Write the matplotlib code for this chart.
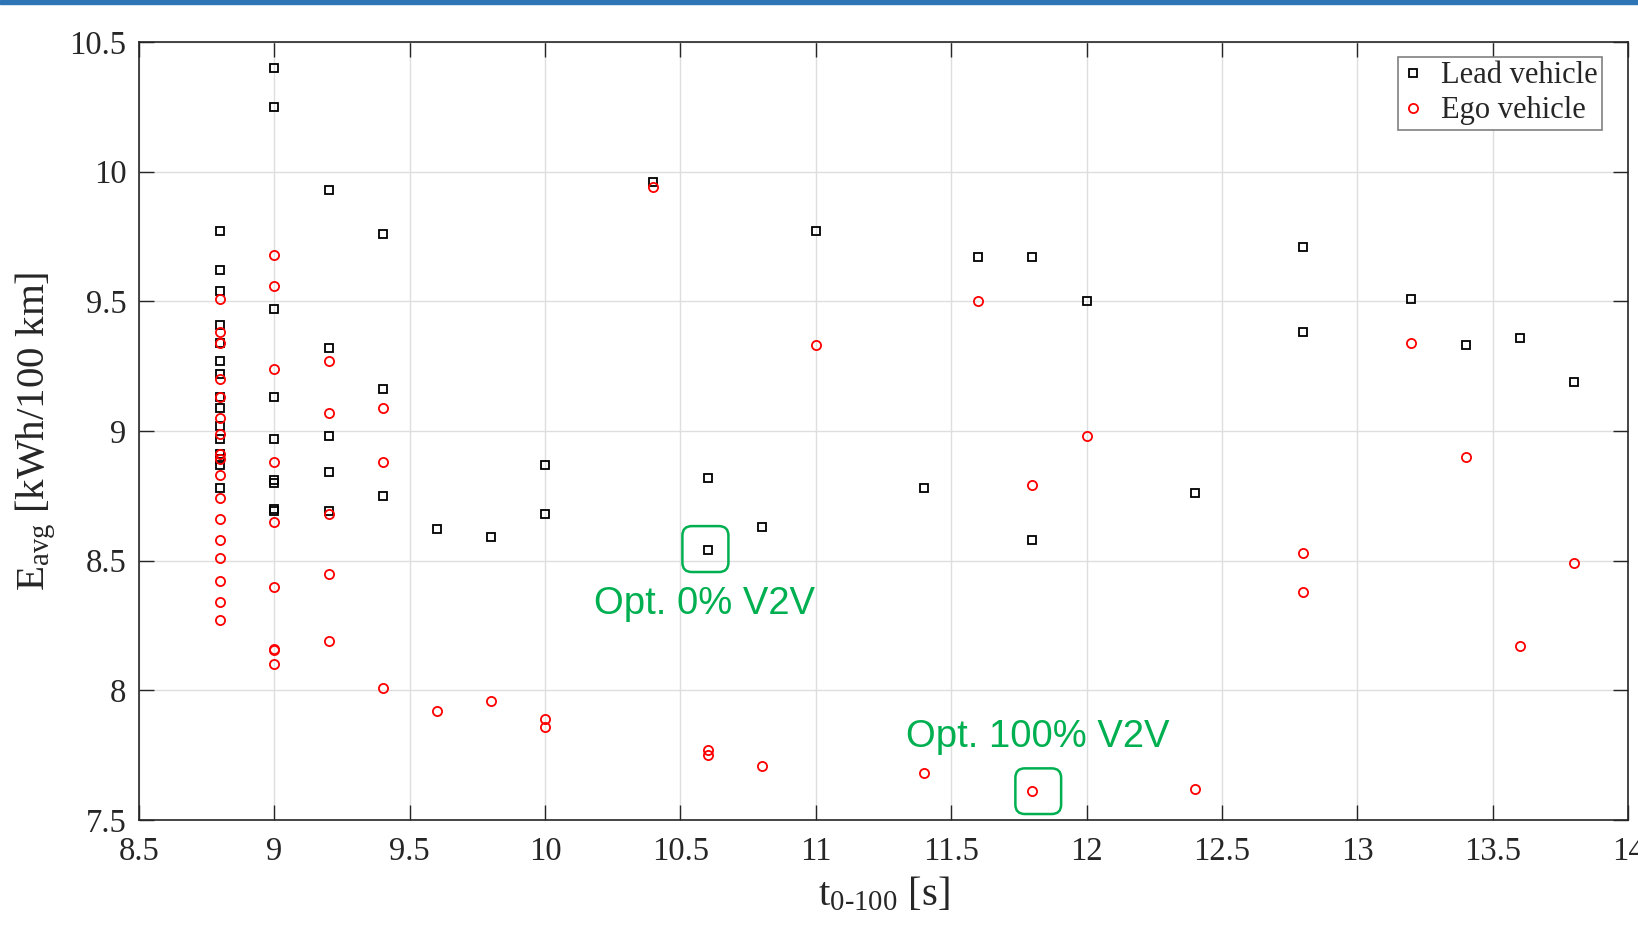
import numpy as np
import matplotlib.pyplot as plt
from matplotlib.patches import FancyBboxPatch, Rectangle

plt.rcParams['font.family'] = 'Liberation Serif'
plt.rcParams['mathtext.fontset'] = 'custom'
plt.rcParams['mathtext.rm'] = 'Liberation Serif'
plt.rcParams['mathtext.it'] = 'Liberation Serif'

# lead vehicle (squares)
lead_t = [8.8]*15 + [9.0]*9 + [9.2]*5 + [9.4]*3 + [9.6, 9.8, 10.0, 10.0, 10.4, 10.6, 10.6, 10.8, 11.0,
          11.4, 11.6, 11.8, 11.8, 12.0, 12.4, 12.8, 12.8, 13.2, 13.4, 13.6, 13.8]
lead_e = [9.77, 9.62, 9.54, 9.41, 9.34, 9.27, 9.22, 9.13, 9.09, 9.02, 8.97, 8.91, 8.89, 8.87, 8.78,
          10.40, 10.25, 9.47, 9.13, 8.97, 8.81, 8.80, 8.70, 8.69,
          9.93, 9.32, 8.98, 8.84, 8.69,
          9.76, 9.16, 8.75,
          8.62, 8.59, 8.87, 8.68, 9.96, 8.82, 8.54, 8.63, 9.77,
          8.78, 9.67, 9.67, 8.58, 9.50, 8.76, 9.71, 9.38, 9.51, 9.33, 9.36, 9.19]

# ego vehicle (circles)
ego_t = [8.8]*17 + [9.0]*9 + [9.2]*5 + [9.4]*3 + [9.6, 9.8, 10.0, 10.0, 10.4, 10.6, 10.6, 10.8, 11.0,
         11.4, 11.6, 11.8, 11.8, 12.0, 12.4, 12.8, 12.8, 13.2, 13.4, 13.6, 13.8]
ego_e = [9.51, 9.38, 9.34, 9.20, 9.13, 9.05, 8.99, 8.91, 8.89, 8.83, 8.74, 8.66, 8.58, 8.51, 8.42, 8.34, 8.27,
         9.68, 9.56, 9.24, 8.88, 8.65, 8.40, 8.16, 8.155, 8.10,
         9.27, 9.07, 8.68, 8.45, 8.19,
         9.09, 8.88, 8.01,
         7.92, 7.96, 7.89, 7.86, 9.94, 7.77, 7.75, 7.71, 9.33,
         7.68, 9.50, 8.79, 7.61, 8.98, 7.62, 8.53, 8.38, 9.34, 8.90, 8.17, 8.49]

green = '#00b050'

fig = plt.figure(figsize=(16.38, 9.30), dpi=100)
ax = fig.add_axes([0.0849, 0.1183, 0.9090, 0.8367])

# blue strip at the very top of the picture
fig.patches.append(Rectangle((0, 0.9957), 1, 0.0043, transform=fig.transFigure,
                             color='#2e75b6', zorder=10))

ax.plot(lead_t, lead_e, 's', ms=5.2, mfc='none', mec='black', mew=1.3, label='Lead vehicle')
ax.plot(ego_t, ego_e, 'o', ms=6.6, mfc='none', mec='red', mew=1.3, label='Ego vehicle')

ax.set_xlim(8.5, 14)
ax.set_ylim(7.5, 10.5)
ax.set_xticks(np.arange(8.5, 14.01, 0.5))
ax.set_yticks(np.arange(7.5, 10.51, 0.5))
ax.set_xticklabels(['8.5', '9', '9.5', '10', '10.5', '11', '11.5', '12', '12.5', '13', '13.5', '14'])
ax.set_yticklabels(['7.5', '8', '8.5', '9', '9.5', '10', '10.5'])
ax.grid(True, color='#dedede', lw=1)
ax.set_axisbelow(True)
ax.tick_params(direction='in', length=11, width=1, top=True, right=True,
               labelsize=23.5, colors='#262626', pad=9)
ax.tick_params(axis='x', pad=12)
for s in ax.spines.values():
    s.set_color('#262626')
    s.set_linewidth(1.2)

ax.set_xlabel(r'$\mathrm{t_{0\text{-}100}}$ [s]', fontsize=29.5, color='#262626', labelpad=6)
ax.set_ylabel(r'$\mathrm{E_{avg}}$ [kWh/100 km]', fontsize=29.5, color='#262626', labelpad=8)

leg = ax.legend(loc='upper right', bbox_to_anchor=(0.9825, 0.981), borderaxespad=0,
                fontsize=22, frameon=True, fancybox=False, framealpha=1,
                edgecolor='#808080', handlelength=0.7, handletextpad=0.55, borderpad=0.15,
                labelspacing=0.2)
leg.get_frame().set_linewidth(1.2)
for t in leg.get_texts():
    t.set_color('#262626')

# highlighted optimum points
for (x0, y0, x1, y1) in [(10.507, 8.456, 10.677, 8.633), (11.737, 7.523, 11.906, 7.699)]:
    ax.add_patch(FancyBboxPatch((x0, y0), x1 - x0, y1 - y0,
                                boxstyle='round,pad=0,rounding_size=0.035',
                                mutation_aspect=1.04,
                                fill=False, ec=green, lw=1.8, zorder=5))

ax.text(10.59, 8.333, 'Opt. 0% V2V', color=green, fontsize=27.5, family='Liberation Sans',
        ha='center', va='center')
ax.text(11.819, 7.821, 'Opt. 100% V2V', color=green, fontsize=27.5, family='Liberation Sans',
        ha='center', va='center')

fig.savefig('out.png', dpi=100)
